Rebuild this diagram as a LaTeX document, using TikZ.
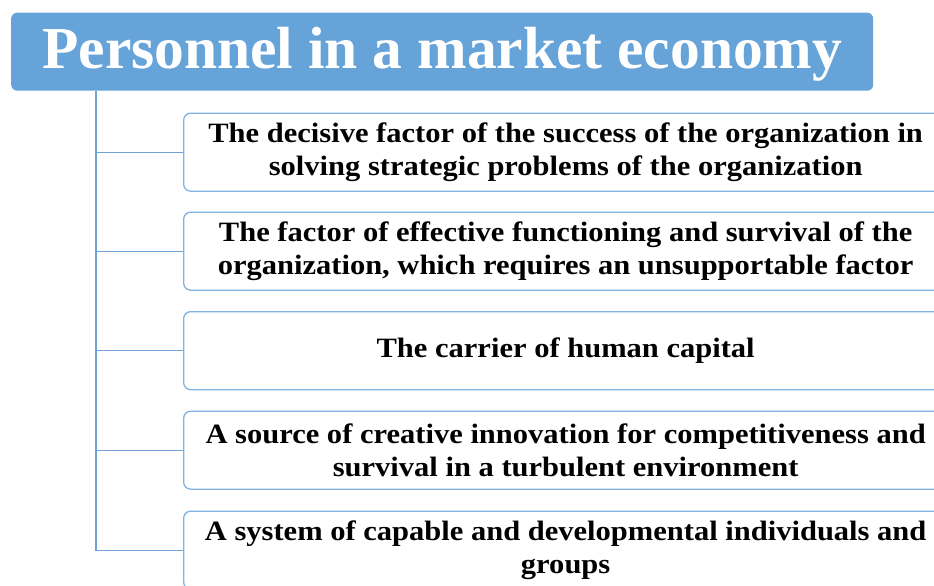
\documentclass[tikz,border=0pt]{standalone}
\usepackage{fontspec}
\setmainfont{Liberation Serif}
\newfontfamily\itemfont[FakeStretch=1.09]{Liberation Serif}
\definecolor{headblue}{HTML}{66A3D9}
\definecolor{edgeblue}{HTML}{80B2E4}
\definecolor{linkblue}{HTML}{70A2D6}
\begin{document}
\begin{tikzpicture}[x=1pt,y=-1pt,
  titlebox/.style={fill=headblue, draw=none, rounded corners=6pt, anchor=north west,
    minimum width=862pt, minimum height=78pt, inner sep=0pt, text=white,
    text height=33pt, text depth=0pt,
    font=\fontsize{59.5}{60}\selectfont\bfseries},
  itembox/.style={draw=edgeblue, line width=1.3pt, fill=white, rounded corners=7pt,
    anchor=north west, minimum width=764pt, minimum height=78pt, inner sep=0pt,
    align=center, text=black, font=\fontsize{28}{33}\itemfont\bfseries},
  link/.style={draw=linkblue, line width=1.1pt}]
\useasboundingbox (0,0) rectangle (934,586);
\clip (0,0) rectangle (934,586);
\node[titlebox] (title) at (11,12.5) {Personnel in a market economy};
\node[itembox] (i1) at (183,112.5) {The decisive factor of the success of the organization in\\solving strategic problems of the organization};
\node[itembox] (i2) at (183,211.5) {The factor of effective functioning and survival of the\\organization, which requires an unsupportable factor};
\node[itembox] (i3) at (183,311) {The carrier of human capital};
\node[itembox] (i4) at (183,410.5) {A source of creative innovation for competitiveness and\\survival in a turbulent environment};
\node[itembox] (i5) at (183,510.5) {A system of capable and developmental individuals and\\groups};
% trunk from the heading down to the last branch
\coordinate (trunk) at (96,90.5);
\draw[link] (trunk) |- (i5.west);
\foreach \n in {i1,i2,i3,i4}
  \draw[link] (\n.west) -- (\n.west -| trunk);
\end{tikzpicture}
\end{document}
